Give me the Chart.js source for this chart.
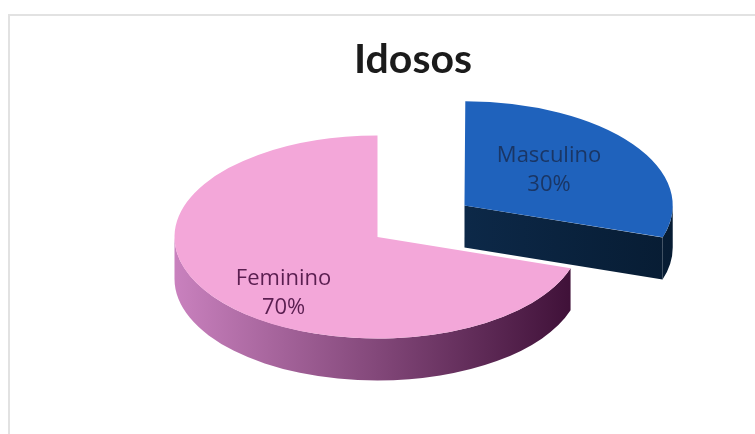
<!DOCTYPE html>
<html>
<head>
<meta charset="utf-8">
<title>Idosos</title>
<script src="https://cdn.jsdelivr.net/npm/chart.js@4"></script>
<style>
    html, body { margin: 0; padding: 0; background: #fff; overflow: hidden; }
    .frame {
        position: absolute; left: 8px; top: 14px;
        width: 800px; height: 500px;
        border: 2px solid #e2e2e2;
    }
    #idososChart { position: absolute; left: 0; top: 0; }
</style>
</head>
<body>
<div class="frame"></div>
<canvas id="idososChart" width="755" height="434"></canvas>
<script>
const chartTitle = 'Idosos';
const categories = ['Masculino', 'Feminino'];
const shares = [30, 70];

// Excel-style 3D pie: squash the disc vertically and add side walls under it
const pie3d = {
    id: 'pie3d',
    geometry(arc) {
        const t = (arc.options.offset || 0) / 4;
        const half = (arc.startAngle + arc.endAngle) / 2;
        const circ = arc.endAngle - arc.startAngle;
        const fix = 1 - Math.sin(Math.min(Math.PI, circ));
        return {
            x: arc.x + Math.cos(half) * t,
            y: arc.y + Math.sin(half) * t,
            r: arc.outerRadius + t * fix,
            start: arc.startAngle,
            end: arc.endAngle,
            half: half
        };
    },
    beforeDatasetsDraw(chart, args, opts) {
        const ctx = chart.ctx;
        const arcs = chart.getDatasetMeta(0).data;
        const cy = arcs[0].y;
        const d = opts.depth / opts.tilt;

        ctx.save();
        ctx.translate(0, cy);
        ctx.scale(1, opts.tilt);
        ctx.translate(0, -cy);

        arcs.forEach((arc, i) => {
            const g = this.geometry(arc);
            const shade = ctx.createLinearGradient(g.x - g.r, 0, g.x + g.r, 0);
            shade.addColorStop(0, opts.sideLight[i]);
            shade.addColorStop(1, opts.sideDark[i]);
            ctx.fillStyle = shade;

            // cut faces that turn towards the viewer
            [[g.start, Math.cos(g.start) < 0], [g.end, Math.cos(g.end) > 0]].forEach(([a, visible]) => {
                if (!visible) return;
                const ex = g.x + g.r * Math.cos(a);
                const ey = g.y + g.r * Math.sin(a);
                ctx.beginPath();
                ctx.moveTo(g.x, g.y);
                ctx.lineTo(ex, ey);
                ctx.lineTo(ex, ey + d);
                ctx.lineTo(g.x, g.y + d);
                ctx.closePath();
                ctx.fill();
            });

            // outer wall on the front half of the disc
            [0, 2 * Math.PI].forEach(base => {
                const a1 = Math.max(g.start, base);
                const a2 = Math.min(g.end, base + Math.PI);
                if (a2 <= a1) return;
                ctx.beginPath();
                ctx.arc(g.x, g.y, g.r, a1, a2);
                ctx.lineTo(g.x + g.r * Math.cos(a2), g.y + g.r * Math.sin(a2) + d);
                ctx.arc(g.x, g.y + d, g.r, a2, a1, true);
                ctx.closePath();
                ctx.fill();
            });
        });
        // transform stays on while Chart.js paints the top faces
    },
    afterDatasetsDraw(chart, args, opts) {
        const ctx = chart.ctx;
        ctx.restore();

        const arcs = chart.getDatasetMeta(0).data;
        const cy = arcs[0].y;
        const values = chart.data.datasets[0].data;
        const total = values.reduce((a, b) => a + b, 0);

        ctx.save();
        ctx.font = opts.labelFont;
        ctx.textAlign = 'center';
        ctx.textBaseline = 'middle';
        arcs.forEach((arc, i) => {
            const g = this.geometry(arc);
            const spot = opts.labelSpots[i];
            const a = g.half + spot.turn * Math.PI / 180;
            const px = g.x + spot.frac * g.r * Math.cos(a);
            const py = g.y + spot.frac * g.r * Math.sin(a);
            const sy = cy + (py - cy) * opts.tilt;
            const pct = Math.round(values[i] / total * 100) + '%';
            ctx.fillStyle = opts.labelColors[i];
            ctx.fillText(chart.data.labels[i], px, sy - 14);
            ctx.fillText(pct, px, sy + 15);
        });
        ctx.restore();
    },
    afterDraw(chart, args, opts) {
        const ctx = chart.ctx;
        ctx.save();
        ctx.font = opts.titleFont;
        ctx.fillStyle = '#1b1b1b';
        ctx.textAlign = 'center';
        ctx.textBaseline = 'alphabetic';
        ctx.fillText(chartTitle, opts.titleX, opts.titleY);
        ctx.restore();
    }
};

document.addEventListener('DOMContentLoaded', () => {
    const ctx = document.getElementById('idososChart');

    new Chart(ctx, {
        type: 'pie',
        data: {
            labels: categories,
            datasets: [{
                data: shares,
                backgroundColor: ['#1f62bc', '#f3a7d9'],
                borderWidth: 0,
                offset: [430, 0],
                clip: false
            }]
        },
        options: {
            responsive: false,
            animation: false,
            events: [],
            radius: 203,
            cutout: '0%',
            layout: { padding: { top: 60, bottom: 20, left: 0, right: 0 } },
            plugins: {
                legend: { display: false },
                tooltip: { enabled: false },
                pie3d: {
                    tilt: 0.5,
                    depth: 42,
                    sideLight: ['#12355d', '#c981be'],
                    sideDark: ['#071c33', '#3c0e35'],
                    labelFont: '22px "Open Sans", sans-serif',
                    labelColors: ['#1a3665', '#5a1e50'],
                    labelSpots: [{ frac: 0.53, turn: -4 }, { frac: 0.72, turn: -14 }],
                    titleFont: 'bold 41px Lato, sans-serif',
                    titleX: 413,
                    titleY: 73
                }
            }
        },
        plugins: [pie3d]
    });
});
</script>
</body>
</html>
